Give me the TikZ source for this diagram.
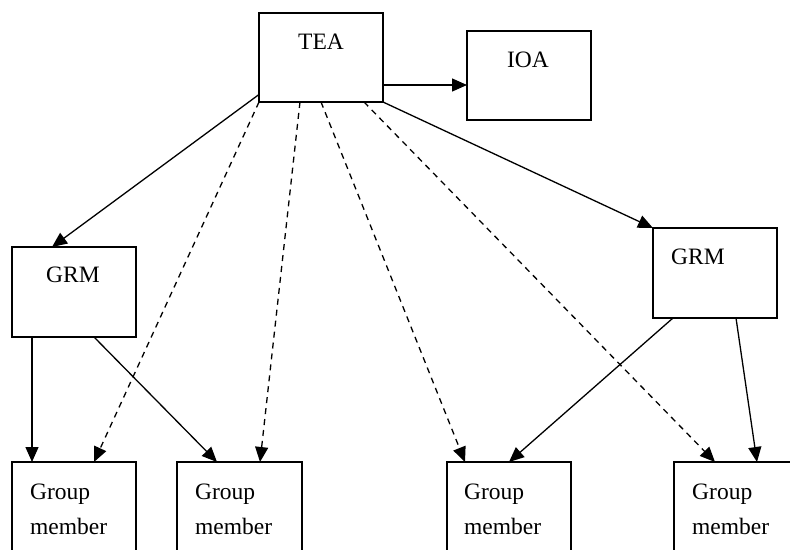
\documentclass[tikz,border=0pt]{standalone}
\usepackage{fontspec}
\setmainfont{Liberation Serif}
\usetikzlibrary{arrows.meta}
\begin{document}
\begin{tikzpicture}[x=1pt,y=-1pt,
  box/.style={draw, line width=1.6pt, inner sep=0pt, outer sep=0pt, anchor=north west},
  arr/.style={line width=1.3pt, -{Triangle[length=15pt,width=13pt]}},
  dsh/.style={arr, dash pattern=on 6pt off 5pt},
  lbl/.style={font=\fontsize{23.5}{35}\selectfont, inner sep=0pt},
  gm/.style={lbl, align=left, anchor=base west}]
\useasboundingbox (0,0) rectangle (790,549);
\clip (0,0) rectangle (790,549);
% boxes
\node[box, minimum width=124pt, minimum height=89pt] (tea) at (259,13) {};
\node[box, minimum width=124pt, minimum height=89pt] (ioa) at (467,31) {};
\node[box, minimum width=124pt, minimum height=90pt] (grml) at (12,247) {};
\node[box, minimum width=124pt, minimum height=90pt] (grmr) at (653,228) {};
\node[box, minimum width=124pt, minimum height=100pt] (g1) at (12,462) {};
\node[box, minimum width=125pt, minimum height=100pt] (g2) at (177,462) {};
\node[box, minimum width=124pt, minimum height=100pt] (g3) at (447,462) {};
\node[box, minimum width=124pt, minimum height=100pt] (g4) at (674,462) {};
% texts
\node[lbl] (teat) at (321,42) {TEA};
\node[lbl] (ioat) at (528,60) {IOA};
\node[lbl] (grmlt) at (73,275) {GRM};
\node[lbl] (grmrt) at (698,257) {GRM};
\node[gm] (g1t) at (30,534) {Group\\member};
\node[gm] (g2t) at (195,534) {Group\\member};
\node[gm] (g3t) at (464,534) {Group\\member};
\node[gm] (g4t) at (692,534) {Group\\member};
% solid arrows
\draw[arr] ([yshift=-37pt]tea.west) -- ([xshift=40pt]grml.north west);
\draw[arr] (tea.south east) -- (grmr.north west);
\draw[arr] ([yshift=-72pt]tea.north east) -- ([yshift=-54pt]ioa.north west);
\draw[arr] ([xshift=20pt]grml.south west) -- ([xshift=20pt]g1.north west);
\draw[arr] ([xshift=82pt]grml.south west) -- ([xshift=40pt]g2.north west);
\draw[arr] ([xshift=20pt]grmr.south west) -- ([xshift=62pt]g3.north west);
\draw[arr] ([xshift=83pt]grmr.south west) -- ([xshift=83pt]g4.north west);
% dashed arrows
\draw[dsh] (tea.south west) -- ([xshift=82pt]g1.north west);
\draw[dsh] ([xshift=41pt]tea.south west) -- ([xshift=83pt]g2.north west);
\draw[dsh] ([xshift=62pt]tea.south west) -- ([xshift=18pt]g3.north west);
\draw[dsh] ([xshift=105pt]tea.south west) -- ([xshift=41pt]g4.north west);
\end{tikzpicture}
\end{document}
